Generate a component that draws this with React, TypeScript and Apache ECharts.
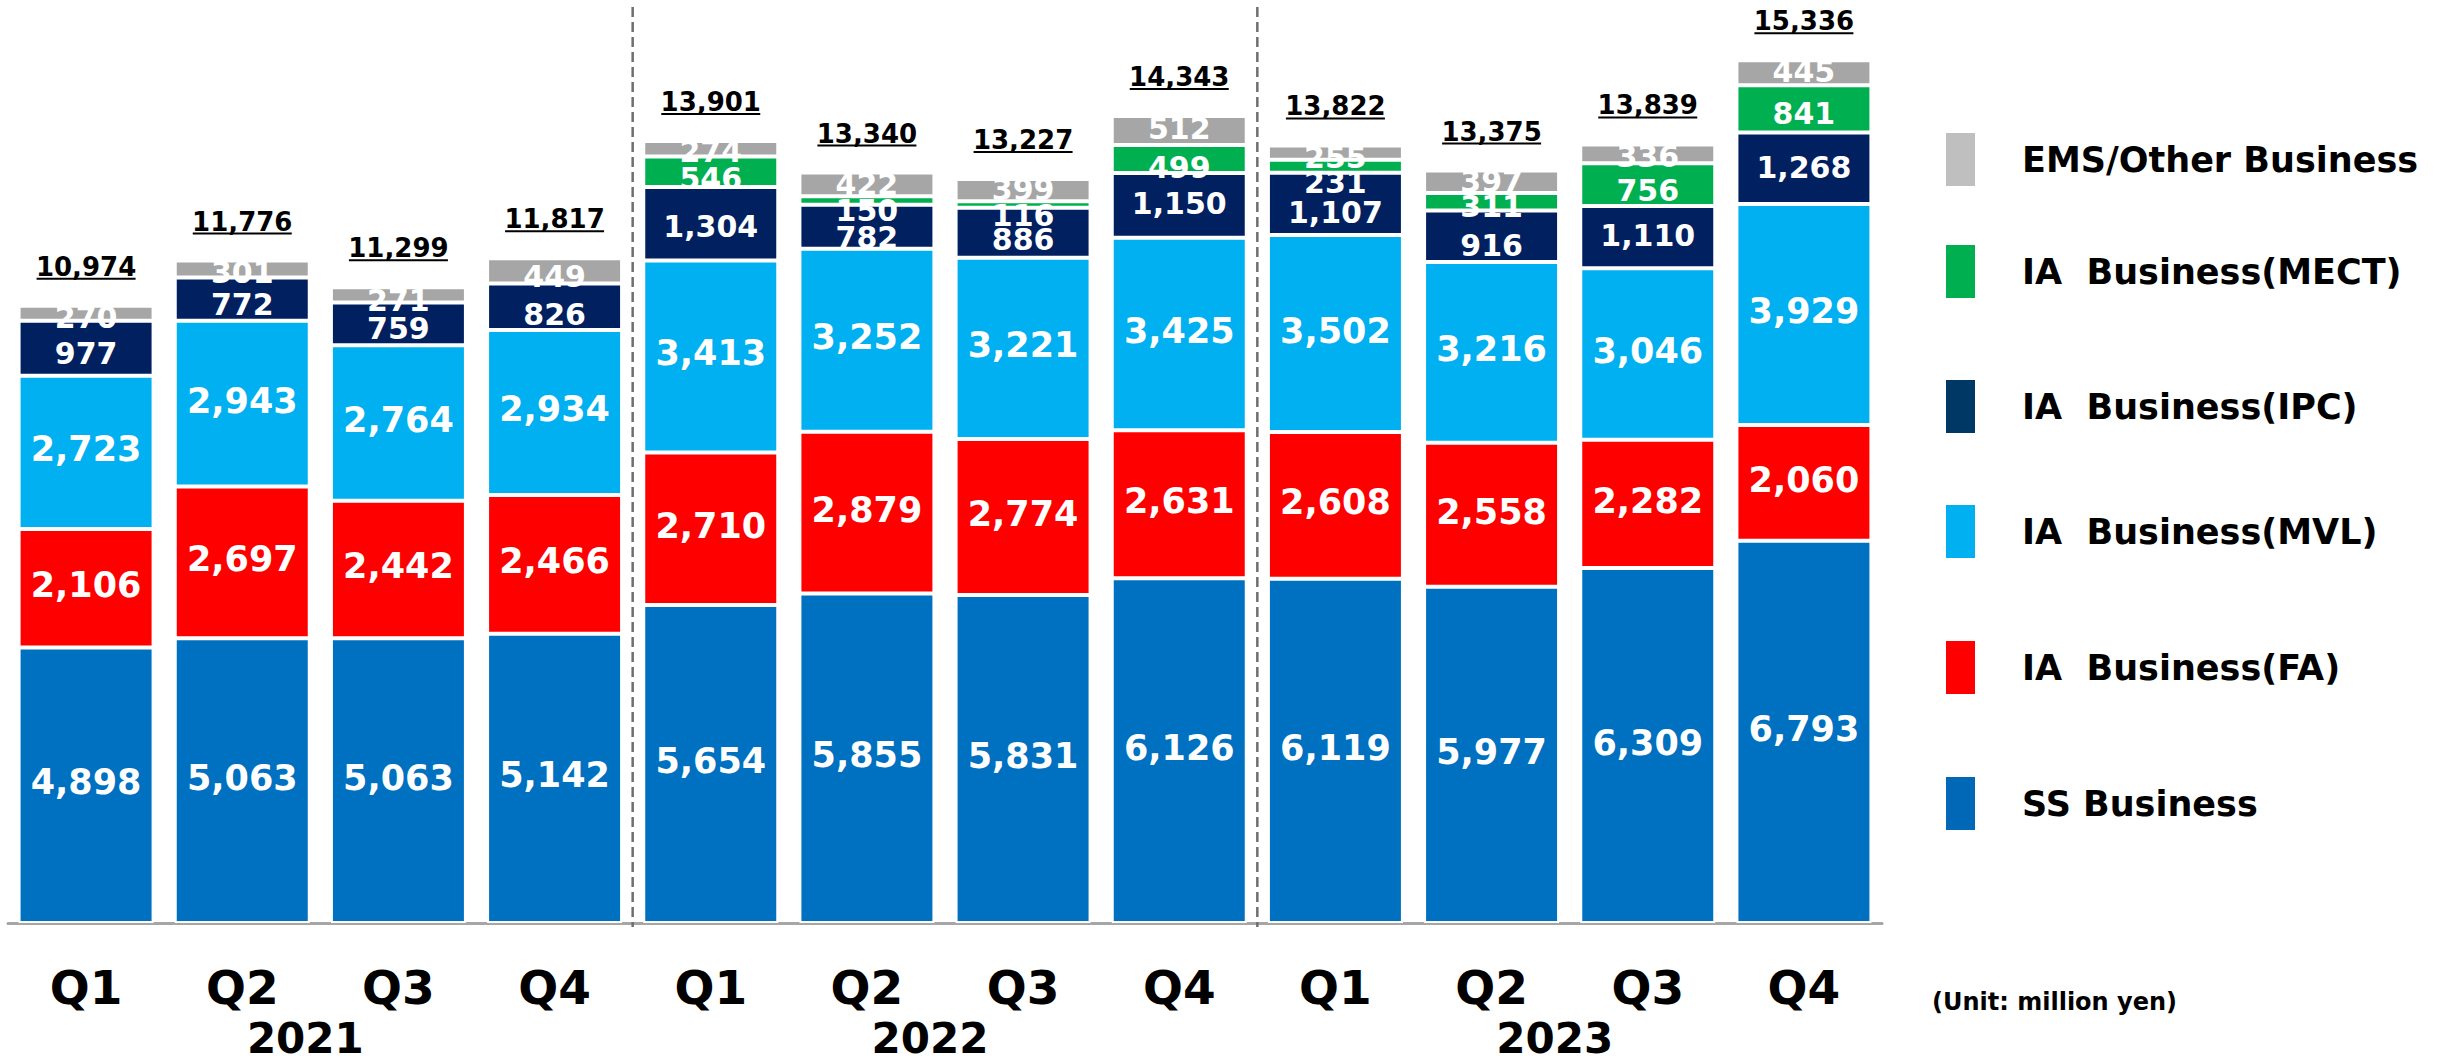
import React, { useEffect, useRef } from "react";
import * as echarts from "echarts";

const QUARTERS = ["Q1", "Q2", "Q3", "Q4", "Q1", "Q2", "Q3", "Q4", "Q1", "Q2", "Q3", "Q4"];
const YEARS = ["2021", "2022", "2023"];
const SS = [4898, 5063, 5063, 5142, 5654, 5855, 5831, 6126, 6119, 5977, 6309, 6793];
const FA = [2106, 2697, 2442, 2466, 2710, 2879, 2774, 2631, 2608, 2558, 2282, 2060];
const MVL = [2723, 2943, 2764, 2934, 3413, 3252, 3221, 3425, 3502, 3216, 3046, 3929];
const IPC = [977, 772, 759, 826, 1304, 782, 886, 1150, 1107, 916, 1110, 1268];
const MECT = [null, null, null, null, 546, 150, 116, 499, 231, 311, 756, 841];
const EMS = [270, 301, 271, 449, 274, 422, 399, 512, 255, 397, 336, 445];
const TOTALS = [10974, 11776, 11299, 11817, 13901, 13340, 13227, 14343, 13822, 13375, 13839, 15336];
const YEAR_STARTS = [4, 8];

const FONT = "'DejaVu Sans', Verdana, sans-serif";

// label vertical nudges (styling, px)
const DY_BIG = [-3, -3, -3, -3, -3, -3, -3, -3, -3, -3, -3, -3];
const DY_IPC = [5, 5, 5, 8, 3, 11, 7, -2, 9, 9, -2, -1];
const DY_MECT = [0, 0, 0, 0, 7, 10, 11, 9, 16, 5, 6, 5];
const DY_EMS = [4, 4, 6, 6, 3, 0, -1, -2, 5, 0, 3, -1];

const fmt = (v: any) => Number(v).toLocaleString("en-US");

function barSeries(name: string, values: (number | null)[], color: string, fontSize: number, dy: number[]) {
  return {
    name,
    type: "bar",
    stack: "total",
    barWidth: 135,
    itemStyle: { color, borderColor: "#ffffff", borderWidth: 2 },
    emphasis: { disabled: true },
    label: {
      show: true,
      position: "inside",
      color: "#ffffff",
      fontFamily: FONT,
      fontWeight: "bold",
      fontSize,
      formatter: (p: any) => fmt(p.value),
    },
    data: values.map((v, i) =>
      v == null ? "-" : { value: v, label: { offset: [0, dy[i]] } }
    ),
  };
}

const LEGEND_ITEMS = [
  { name: "EMS/Other Business", color: "#BFBFBF", top: 133 },
  { name: "IA  Business(MECT)", color: "#00B050", top: 245 },
  { name: "IA  Business(IPC)", color: "#003865", top: 380 },
  { name: "IA  Business(MVL)", color: "#00B0F0", top: 505 },
  { name: "IA  Business(FA)", color: "#FF0000", top: 641 },
  { name: "SS Business", color: "#0068B7", top: 777 },
];

export default function App() {
  const ref = useRef<HTMLDivElement>(null);
  useEffect(() => {
    if (!ref.current) return;
    const chart = echarts.init(ref.current, null, { renderer: "svg" });
    const option: any = {
      animation: false,
      grid: { left: 8, right: 558, top: 6, bottom: 140, containLabel: false },
      legend: LEGEND_ITEMS.map((it) => ({
        left: 1946,
        top: it.top,
        orient: "vertical",
        padding: 0,
        itemWidth: 29,
        itemHeight: 53,
        icon: "rect",
        selectedMode: false,
        data: [{ name: it.name, itemStyle: { color: it.color, borderWidth: 0 } }],
        textStyle: {
          fontFamily: FONT,
          fontWeight: "bold",
          fontSize: 35,
          color: "#000000",
          padding: [0, 0, 0, 42],
        },
      })),
      xAxis: [
        {
          type: "category",
          data: QUARTERS,
          axisLine: { lineStyle: { color: "#A6A6A6", width: 3 } },
          axisTick: { show: false },
          axisLabel: {
            interval: 0,
            margin: 41,
            fontSize: 47,
            fontWeight: "bold",
            color: "#000000",
            fontFamily: FONT,
          },
        },
        {
          type: "category",
          data: YEARS,
          position: "bottom",
          axisLine: { show: false },
          axisTick: { show: false },
          splitLine: { show: false },
          axisLabel: {
            interval: 0,
            margin: 94,
            padding: [0, 30, 0, 0],
            fontSize: 42,
            fontWeight: "bold",
            color: "#000000",
            fontFamily: FONT,
          },
        },
      ],
      yAxis: { type: "value", min: 0, max: 16300, show: false, splitLine: { show: false } },
      series: [
        barSeries("SS Business", SS, "#0070C0", 35, DY_BIG),
        barSeries("IA  Business(FA)", FA, "#FF0000", 35, DY_BIG),
        barSeries("IA  Business(MVL)", MVL, "#00B0F0", 35, DY_BIG),
        barSeries("IA  Business(IPC)", IPC, "#002060", 30, DY_IPC),
        barSeries("IA  Business(MECT)", MECT, "#00B050", 30, DY_MECT),
        barSeries("EMS/Other Business", EMS, "#A6A6A6", 30, DY_EMS),
        {
          type: "custom",
          name: "dividers",
          silent: true,
          clip: false,
          z: 5,
          encode: { x: 0, y: 1 },
          data: YEAR_STARTS.map((i) => [i, 0]),
          renderItem: (params: any, api: any) => {
            const a = api.coord([api.value(0) - 1, 0]);
            const b = api.coord([api.value(0), 0]);
            const x = (a[0] + b[0]) / 2;
            return {
              type: "line",
              shape: { x1: x, y1: params.coordSys.y + 1, x2: x, y2: a[1] + 4 },
              style: { stroke: "#6F6F6F", lineWidth: 2.5, lineDash: [10, 5] },
            };
          },
        },
        {
          type: "custom",
          name: "totals",
          silent: true,
          clip: false,
          z: 10,
          encode: { x: 0, y: 1 },
          data: TOTALS.map((t, i) => [i, t]),
          renderItem: (params: any, api: any) => {
            const p = api.coord([api.value(0), api.value(1)]);
            const text = fmt(api.value(1));
            const w = 99;
            return {
              type: "group",
              children: [
                {
                  type: "text",
                  style: {
                    text,
                    x: p[0],
                    y: p[1] - 39,
                    align: "center",
                    verticalAlign: "middle",
                    fill: "#000000",
                    fontSize: 26,
                    fontWeight: "bold",
                    fontFamily: FONT,
                  },
                },
                {
                  type: "line",
                  shape: { x1: p[0] - w / 2, y1: p[1] - 27, x2: p[0] + w / 2, y2: p[1] - 27 },
                  style: { stroke: "#000000", lineWidth: 2 },
                },
              ],
            };
          },
        },
      ],
      graphic: [
        {
          type: "text",
          left: 1932,
          top: 990,
          style: {
            text: "(Unit: million yen)",
            fontSize: 24,
            fontWeight: "bold",
            fontFamily: FONT,
            fill: "#000000",
          },
        },
      ],
    };
    chart.setOption(option);
    return () => chart.dispose();
  }, []);
  return (
    <div
      ref={ref}
      style={{ position: "absolute", left: 0, top: 0, width: 2440, height: 1063, background: "#ffffff" }}
    />
  );
}
